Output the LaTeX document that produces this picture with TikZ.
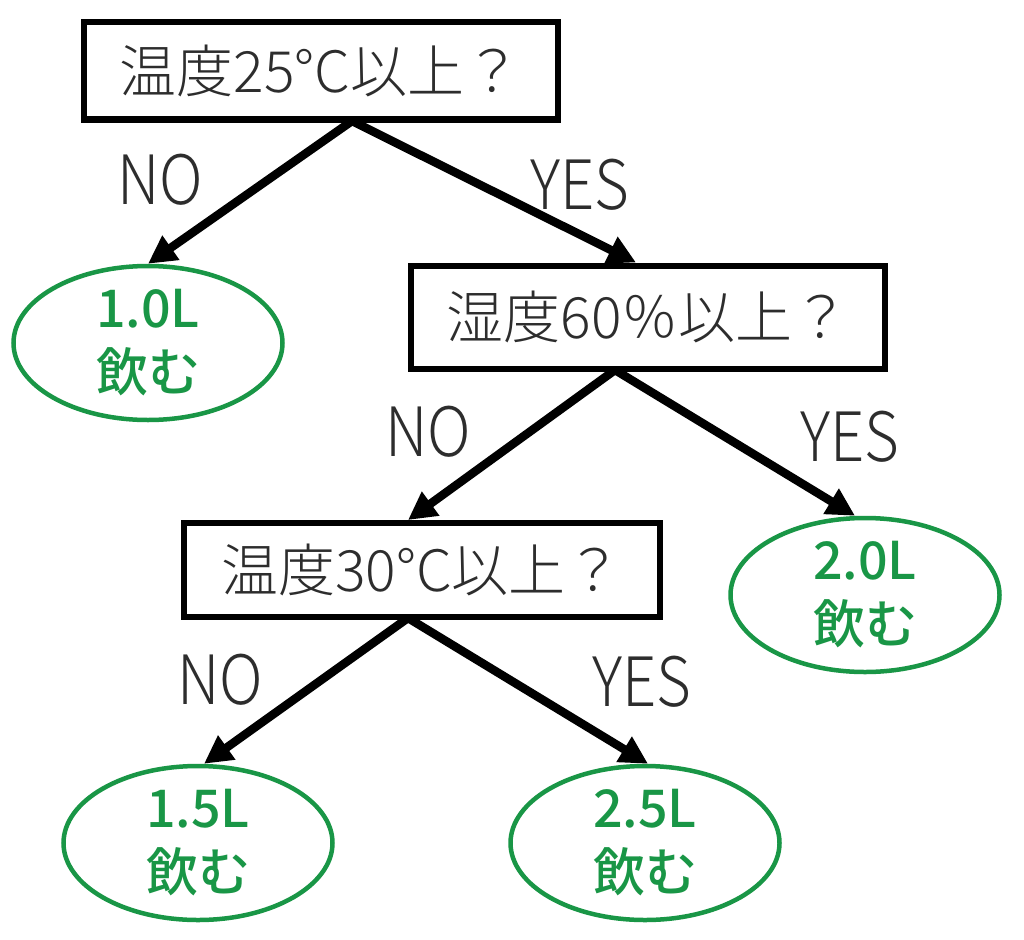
\documentclass[tikz,border=0pt]{standalone}
\usepackage{fontspec}
\setmainfont{Noto Sans CJK JP}
\newfontfamily\lightfont{Noto Sans CJK JP Light}
\newfontfamily\mediumfont{Noto Sans CJK JP Medium}
\usetikzlibrary{arrows.meta,shapes.geometric,calc}
\definecolor{dgreen}{RGB}{25,150,70}
\definecolor{txtgray}{RGB}{45,45,45}
\begin{document}
\begin{tikzpicture}[x=1pt,y=-1pt,
  qbox/.style={draw=black, line width=6pt, text=txtgray, font=\lightfont\fontsize{57}{60}\selectfont, inner sep=0pt},
  ans/.style={ellipse, draw=dgreen, line width=4.5pt, text=dgreen, font=\mediumfont\fontsize{52}{64}\selectfont, align=center, inner sep=0pt, minimum width=269pt, minimum height=154pt},
  arr/.style={line width=8.5pt, -{Triangle[length=28pt,width=28pt]}},
  lbl/.style={text=txtgray, font=\lightfont\fontsize{68}{68}\selectfont, inner sep=0pt}]
\fill[white] (0,0) rectangle (1024,939);
\useasboundingbox (0,0) rectangle (1024,939);

\node[qbox, minimum width=474pt, minimum height=97pt] (b1) at (320.5,71) {温度25°C以上？};
\node[qbox, minimum width=474pt, minimum height=103pt] (b2) at (648,317) {湿度60％以上？};
\node[qbox, minimum width=476pt, minimum height=94pt] (b3) at (422,570) {温度30°C以上？};

\node[ans] (e1) at (148,343) {1.0L\\飲む};
\node[ans] (e2) at (865,595) {2.0L\\飲む};
\node[ans] (e3) at (198,843) {1.5L\\飲む};
\node[ans] (e4) at (645,843) {2.5L\\飲む};

\coordinate (s1) at (352,121);
\coordinate (s2) at (615,370);
\coordinate (s3) at (408,618);

\draw[arr] (s1) -- (e1.north);
\draw[arr] (s1) -- ($(b2.north)+(-12,0)$);
\draw[arr] (s2) -- ($(b3.north)+(-14,0)$);
\draw[arr] (s2) -- ($(e2.north)+(-10,0)$);
\draw[arr] (s3) -- ($(e3.north)+(6,0)$);
\draw[arr] (s3) -- ($(e4.north)+(3,0)$);

\node[lbl] (n1) at (160,180) {\scalebox{0.88}[1]{NO}};
\node[lbl] (y1) at (580,185) {\scalebox{0.88}[1]{YES}};
\node[lbl] (n2) at (428,432) {\scalebox{0.88}[1]{NO}};
\node[lbl] (y2) at (850,437) {\scalebox{0.88}[1]{YES}};
\node[lbl] (n3) at (220,680) {\scalebox{0.88}[1]{NO}};
\node[lbl] (y3) at (642,682) {\scalebox{0.88}[1]{YES}};
\end{tikzpicture}
\end{document}
